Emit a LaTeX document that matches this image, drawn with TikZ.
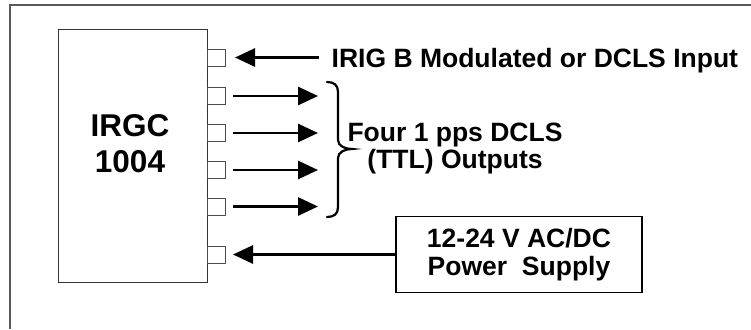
\documentclass[tikz,border=0pt]{standalone}
\usepackage{fontspec}
\setmainfont{Liberation Sans}
\usetikzlibrary{arrows.meta}
\begin{document}
\begin{tikzpicture}[x=1pt,y=-1pt,
  lbl/.style={font=\fontsize{26.5}{26.7}\selectfont\bfseries, inner sep=0pt, align=center},
  biglbl/.style={font=\fontsize{31.5}{36}\selectfont\bfseries, inner sep=0pt, align=center},
  port/.style={draw=black!70, line width=0.8pt, minimum width=18pt, minimum height=17pt, inner sep=0pt, outer sep=0pt},
  unit/.style={draw=black!80, line width=1pt, minimum width=149pt, minimum height=252pt, inner sep=0pt},
  psbox/.style={draw=black, line width=1.2pt, minimum width=246pt, minimum height=76pt, inner sep=0pt, align=center, font=\fontsize{26.5}{27.7}\selectfont\bfseries},
  sig/.style={line width=2.8pt, -{Triangle[length=20pt,width=18pt]}},
  frame/.style={draw=black!65, line width=1.2pt},
  bracestyle/.style={line width=2.2pt, line cap=round}
]
\useasboundingbox (0,0) rectangle (751,329);
\draw[frame] (10,329) -- (10,5) -- (751,5);

% main unit
\node[unit] (irgc) at (132.5,156) {};
\node[biglbl] (irgclbl) at (130,143.4) {IRGC\\1004};

% ports
\node[port] (p1) at (216,57.5) {};
\node[port] (p2) at (216,96) {};
\node[port] (p3) at (216,133) {};
\node[port] (p4) at (216,170) {};
\node[port] (p5) at (216,206.5) {};
\node[port] (p6) at (216,254.5) {};

% input
\node[lbl, anchor=base west] (inlbl) at (331.5,67) {IRIG B Modulated or DCLS Input};
\coordinate (intail) at (319,57.5);
\draw[sig, shorten >=10pt] (intail) -- (p1.east);

% outputs
\coordinate (o2) at (318,96);
\coordinate (o3) at (318,133);
\coordinate (o4) at (318,170);
\coordinate (o5) at (318,206.5);
\draw[sig, shorten <=8pt] (p2.east) -- (o2);
\draw[sig, shorten <=8pt] (p3.east) -- (o3);
\draw[sig, shorten <=8pt] (p4.east) -- (o4);
\draw[sig, shorten <=8pt] (p5.east) -- (o5);

% brace
\draw[bracestyle] (327,82) .. controls (334,82) and (338,85) .. (338,92) -- (338,140)
  .. controls (338,146) and (345,149) .. (352,149)
  .. controls (345,149) and (338,152) .. (338,158) -- (338,207)
  .. controls (338,214) and (334,217) .. (327,217);
\node[lbl] (outlbl) at (455,148.3) {Four 1 pps DCLS\\(TTL) Outputs};

% power supply
\node[psbox] (ps) at (519,254.5) {12-24 V AC/DC\\Power~~Supply};
\draw[sig, shorten >=8pt] (ps.west) -- (p6.east);
\end{tikzpicture}
\end{document}
